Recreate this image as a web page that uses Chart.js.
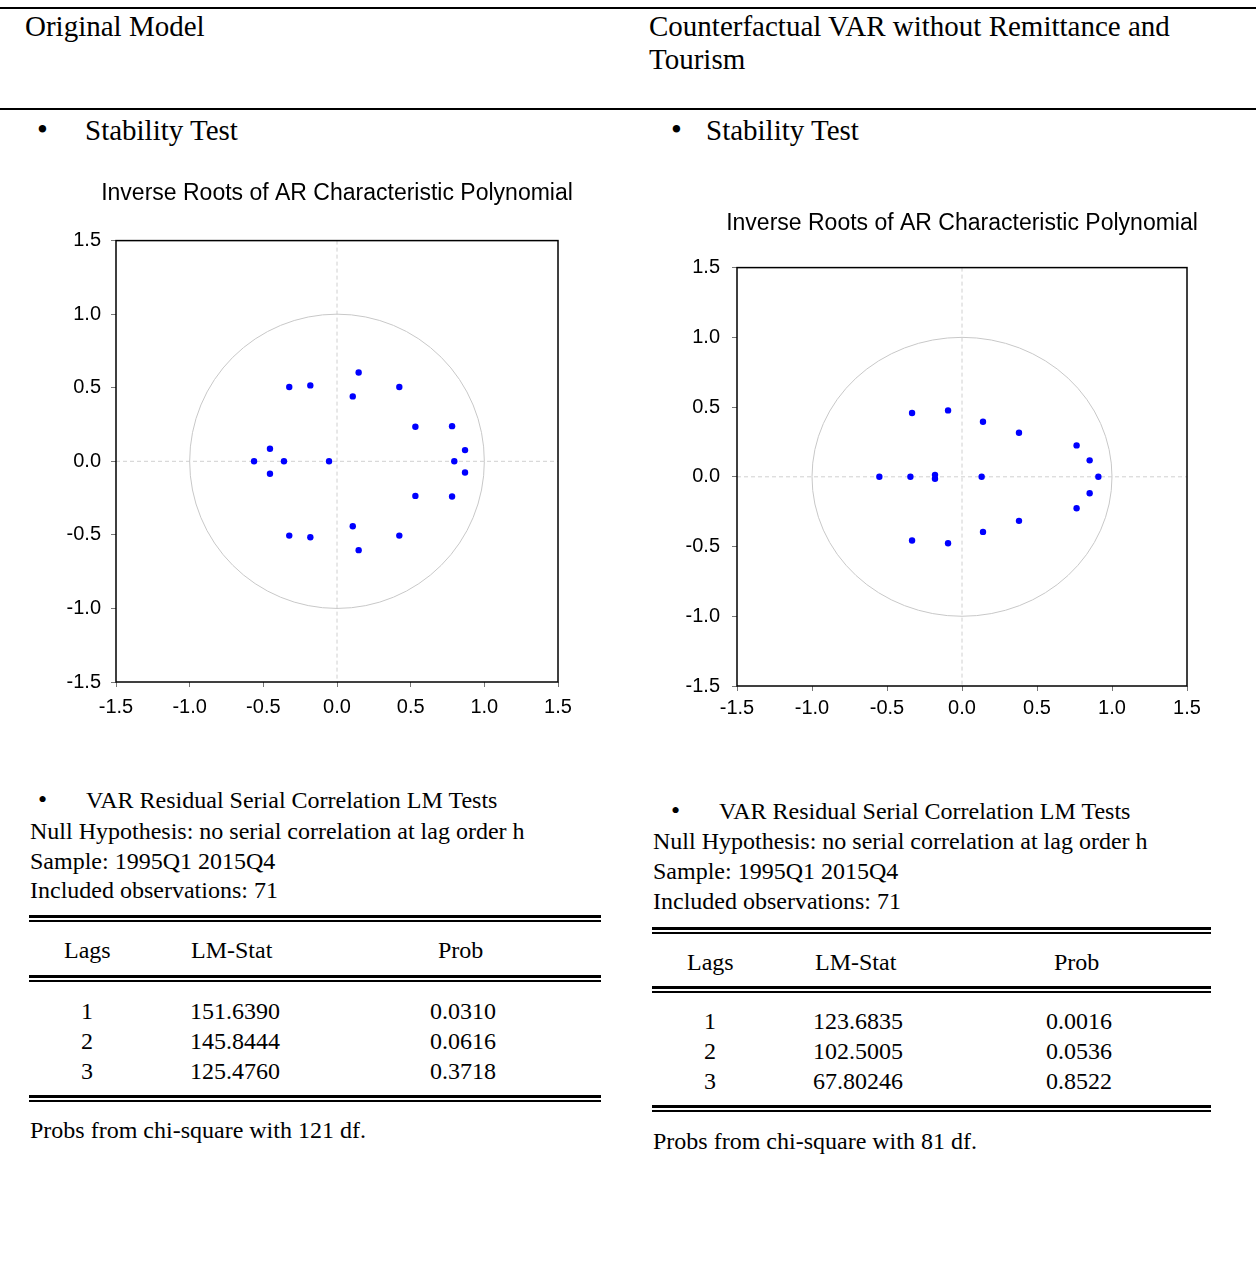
<!DOCTYPE html>
<html>
<head>
<meta charset="utf-8">
<script src="https://cdn.jsdelivr.net/npm/chart.js@4.4.1/dist/chart.umd.min.js"></script>
<style>
  html, body { margin: 0; padding: 0; background: #fff; }
  body { position: relative; width: 1256px; height: 1262px; overflow: hidden;
         font-family: "Liberation Serif", "Times New Roman", serif; color: #000; }
  .t { position: absolute; white-space: nowrap; }
  .h { font-size: 29px; line-height: 33px; }
  .b { font-size: 24px; line-height: 30px; }
  .rule { position: absolute; left: 0; width: 1256px; height: 2px; background: #000; }
  .dbl { position: absolute; border-top: 3px solid #000; border-bottom: 2px solid #000; height: 2px; }
  canvas { position: absolute; }
</style>
</head>
<body>

<div class="rule" style="top:7px"></div>
<div class="rule" style="top:108px"></div>

<div class="t h" style="left:25px; top:10px">Original Model</div>
<div class="t h" style="left:649px; top:10px">Counterfactual VAR without Remittance and<br>Tourism</div>

<div class="t h" style="left:37px; top:113px; font-size:31px">&bull;</div>
<div class="t h" style="left:85px; top:114px">Stability Test</div>
<div class="t h" style="left:671px; top:113px; font-size:31px">&bull;</div>
<div class="t h" style="left:706px; top:114px">Stability Test</div>

<canvas id="chart_left" width="570" height="570" style="left:30px; top:170px"></canvas>
<canvas id="chart_right" width="580" height="560" style="left:652px; top:200px"></canvas>

<!-- left LM test -->
<div class="t b" style="left:38px; top:785px; font-size:26px">&bull;</div>
<div class="t b" style="left:86px; top:785px">VAR Residual Serial Correlation LM Tests</div>
<div class="t b" style="left:30px; top:816px">Null Hypothesis: no serial correlation at lag order h</div>
<div class="t b" style="left:30px; top:846px">Sample: 1995Q1 2015Q4</div>
<div class="t b" style="left:30px; top:875px">Included observations: 71</div>
<div class="dbl" style="left:29px; width:572px; top:915px"></div>
<div class="t b" style="left:64px; top:935px">Lags</div>
<div class="t b" style="left:191px; top:935px">LM-Stat</div>
<div class="t b" style="left:438px; top:935px">Prob</div>
<div class="dbl" style="left:29px; width:572px; top:975px"></div>
<div id="rows_left"></div>
<div class="dbl" style="left:29px; width:572px; top:1095px"></div>
<div class="t b" style="left:30px; top:1115px">Probs from chi-square with 121 df.</div>

<!-- right LM test -->
<div class="t b" style="left:671px; top:796px; font-size:26px">&bull;</div>
<div class="t b" style="left:719px; top:796px">VAR Residual Serial Correlation LM Tests</div>
<div class="t b" style="left:653px; top:826px">Null Hypothesis: no serial correlation at lag order h</div>
<div class="t b" style="left:653px; top:856px">Sample: 1995Q1 2015Q4</div>
<div class="t b" style="left:653px; top:886px">Included observations: 71</div>
<div class="dbl" style="left:652px; width:559px; top:927px"></div>
<div class="t b" style="left:687px; top:947px">Lags</div>
<div class="t b" style="left:815px; top:947px">LM-Stat</div>
<div class="t b" style="left:1054px; top:947px">Prob</div>
<div class="dbl" style="left:652px; width:559px; top:986px"></div>
<div id="rows_right"></div>
<div class="dbl" style="left:652px; width:559px; top:1105px"></div>
<div class="t b" style="left:653px; top:1126px">Probs from chi-square with 81 df.</div>

<script>
// inverse roots, original model (real / imaginary parts)
var leftRe = [0.147, -0.324, -0.181, 0.107, 0.423, 0.532, 0.781, 0.869, 0.796, 0.869, 0.532, 0.781,
              0.423, 0.107, 0.147, -0.324, -0.181, -0.455, -0.563, -0.455, -0.360, -0.054];
var leftIm = [0.604, 0.505, 0.516, 0.441, 0.505, 0.235, 0.239, 0.076, 0.000, -0.076, -0.235, -0.239,
              -0.505, -0.441, -0.604, -0.505, -0.516, 0.085, 0.000, -0.085, 0.000, 0.000];

// inverse roots, counterfactual VAR
var rightRe = [-0.333, -0.093, 0.140, 0.380, 0.764, 0.851, 0.909, 0.851, 0.764, 0.380, 0.140,
               -0.093, -0.333, -0.551, -0.344, -0.180, -0.180, 0.131];
var rightIm = [0.457, 0.476, 0.395, 0.316, 0.225, 0.118, 0.000, -0.118, -0.225, -0.316, -0.395,
               -0.476, -0.457, 0.000, 0.000, 0.014, -0.014, 0.000];

var axisTicks = [-1.5, -1.0, -0.5, 0.0, 0.5, 1.0, 1.5];

// LM test tables
var lags = [1, 2, 3];
var lmLeft = ['151.6390', '145.8444', '125.4760'];
var probLeft = ['0.0310', '0.0616', '0.3718'];
var lmRight = ['123.6835', '102.5005', '67.80246'];
var probRight = ['0.0016', '0.0536', '0.8522'];

function buildRows(id, lm, prob, top, xLag, xLm, xProb) {
    var box = document.getElementById(id);
    var html = '';
    for (var i = 0; i < lags.length; i++) {
        var y = top + i * 30;
        html += '<div class="t b" style="left:' + xLag + 'px; top:' + y + 'px">' + lags[i] + '</div>';
        html += '<div class="t b" style="left:' + xLm + 'px; top:' + y + 'px">' + lm[i] + '</div>';
        html += '<div class="t b" style="left:' + xProb + 'px; top:' + y + 'px">' + prob[i] + '</div>';
    }
    box.innerHTML = html;
}
buildRows('rows_left', lmLeft, probLeft, 996, 81, 190, 430);
buildRows('rows_right', lmRight, probRight, 1006, 704, 813, 1046);

Chart.defaults.color = '#000';
Chart.defaults.font.family = '"Liberation Sans", Arial, sans-serif';

// unit circle, zero lines and frame drawn through the scales
var rootFrame = {
    id: 'rootFrame',
    afterLayout: function(chart) {
        // let the title run wider than the plot, centred over it
        var t = chart.titleBlock, a = chart.chartArea;
        if (t) {
            var c = (a.left + a.right) / 2;
            t.left = c - 280;
            t.right = c + 280;
            t.width = 560;
        }
    },
    beforeDatasetsDraw: function(chart) {
        var ctx = chart.ctx, a = chart.chartArea;
        var xs = chart.scales.x, ys = chart.scales.y;
        var cx = xs.getPixelForValue(0), cy = ys.getPixelForValue(0);
        var rx = xs.getPixelForValue(1) - cx, ry = cy - ys.getPixelForValue(1);
        ctx.save();
        ctx.strokeStyle = '#d0d0d0';
        ctx.lineWidth = 1;
        ctx.setLineDash([4, 3]);
        ctx.beginPath();
        ctx.moveTo(a.left, cy); ctx.lineTo(a.right, cy);
        ctx.moveTo(cx, a.top); ctx.lineTo(cx, a.bottom);
        ctx.stroke();
        ctx.setLineDash([]);
        ctx.strokeStyle = '#c8c8c8';
        ctx.beginPath();
        ctx.ellipse(cx, cy, rx, ry, 0, 0, Math.PI * 2);
        ctx.stroke();
        ctx.strokeStyle = '#000';
        ctx.lineWidth = 1.5;
        ctx.strokeRect(a.left, a.top, a.right - a.left, a.bottom - a.top);
        ctx.restore();
    }
};

function createRootChart(context, re, im, cfg) {
    var points = [];
    for (var i = 0; i < re.length; i++) {
        points.push({x: re[i], y: im[i]});
    }
    var axis = function(pad, size, isX) {
        return {
            type: 'linear',
            min: -1.5,
            max: 1.5,
            afterBuildTicks: function(scale) {
                scale.ticks = axisTicks.map(function(v) { return {value: v}; });
            },
            afterFit: function(scale) {
                if (isX) { scale.height = size; } else { scale.width = size; }
            },
            grid: {drawOnChartArea: false, drawTicks: true, tickLength: 5, color: '#777'},
            border: {display: false},
            ticks: {
                padding: pad,
                font: {size: 20},
                maxRotation: 0,
                callback: function(v) { return Number(v).toFixed(1); }
            }
        };
    };
    new Chart(document.getElementById(context).getContext('2d'), {
        type: 'scatter',
        data: {
            datasets: [{
                data: points,
                backgroundColor: '#0000ff',
                borderColor: '#0000ff',
                pointRadius: 3.2,
                borderWidth: 0
            }]
        },
        options: {
            responsive: false,
            animation: false,
            layout: {padding: cfg.layout},
            plugins: {
                legend: {display: false},
                tooltip: {enabled: false},
                title: {
                    display: true,
                    fullSize: false,
                    text: 'Inverse Roots of AR Characteristic Polynomial',
                    color: '#000',
                    font: {size: 23, weight: 'normal'},
                    padding: cfg.titlePad
                }
            },
            scales: {
                x: axis(cfg.xPad, cfg.xHeight, true),
                y: axis(cfg.yPad, cfg.yWidth, false)
            }
        },
        plugins: [rootFrame]
    });
}

createRootChart('chart_left', leftRe, leftIm, {
    layout: {left: 0, right: 42, top: 0, bottom: 18},
    titlePad: {top: 10, bottom: 33},
    xPad: 8, xHeight: 40, yPad: 10, yWidth: 86
});
createRootChart('chart_right', rightRe, rightIm, {
    layout: {left: 0, right: 45, top: 0, bottom: 34},
    titlePad: {top: 10, bottom: 30},
    xPad: 5, xHeight: 40, yPad: 12, yWidth: 85
});
</script>
</body>
</html>
